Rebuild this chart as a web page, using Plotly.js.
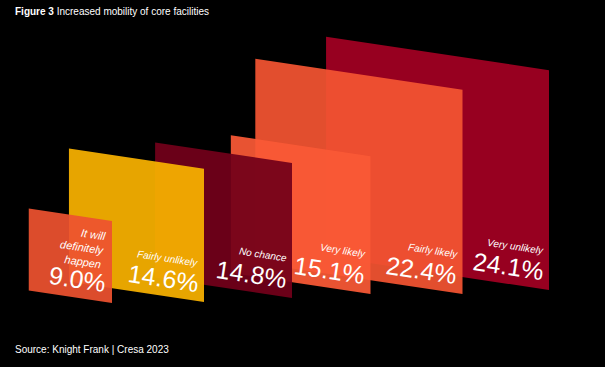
<!DOCTYPE html>
<html>
<head>
<meta charset="utf-8">
<script src="https://cdn.plot.ly/plotly-3.0.1.min.js"></script>
<style>
html,body{margin:0;padding:0;background:#000;}
#chart{width:605px;height:367px;}
</style>
</head>
<body>
<div id="chart"></div>
<script>
// ---- data ----
var categories = ["It will definitely happen", "Fairly unlikely", "No chance", "Very likely", "Fairly likely", "Very unlikely"];
var labelLines = ["It will<br>definitely<br>happen", "Fairly unlikely", "No chance", "Very likely", "Fairly likely", "Very unlikely"];
var values = [9.0, 14.6, 14.8, 15.1, 22.4, 24.1];

// ---- layout / styling (not data) ----
var rightEdge = [112, 204, 292, 370.5, 462.5, 549];
var bottomRight = [303, 302, 298, 294, 294, 290];
var colors = ["rgba(237,82,47,0.93)", "rgba(249,178,0,0.93)", "rgba(114,0,26,0.93)",
              "rgba(250,89,54,0.93)", "rgba(243,84,49,0.93)", "rgba(163,0,34,0.93)"];
var kx = 9.25, ky = 9.12, slope = 0.15;
var angle = Math.atan(slope) * 180 / Math.PI;

var traces = [];
var annotations = [];
for (var i = values.length - 1; i >= 0; i--) {
  var w = values[i] * kx, h = values[i] * ky;
  var xr = rightEdge[i], yb = bottomRight[i], xl = xr - w;
  traces.push({
    type: "scatter", mode: "lines",
    x: [xr, xr, xl, xl, xr],
    y: [yb, yb - h, yb - h - slope * w, yb - slope * w, yb],
    fill: "toself", fillcolor: colors[i],
    line: {width: 0, color: "rgba(0,0,0,0)"},
    hoverinfo: "skip", showlegend: false, name: categories[i]
  });
}
for (var j = 0; j < values.length; j++) {
  var xr2 = rightEdge[j], yb2 = bottomRight[j];
  annotations.push({
    x: xr2 - 1.5, y: yb2 - 24, xref: "x", yref: "y",
    text: values[j].toFixed(1) + "%", showarrow: false,
    xanchor: "right", yanchor: "middle", textangle: angle,
    font: {family: "Liberation Sans, Arial, sans-serif", size: 25, color: "#ffffff"}
  });
  annotations.push({
    x: xr2 - 2, y: j === 0 ? yb2 - 56 : yb2 - 44, xref: "x", yref: "y",
    text: "<i>" + labelLines[j] + "</i>", showarrow: false, align: "right",
    xanchor: "right", yanchor: "middle", textangle: angle,
    font: {family: "Liberation Sans, Arial, sans-serif", size: j === 0 ? 11 : 10, color: "#ffffff"}
  });
}
annotations.push({
  x: 13, y: 11.5, xref: "x", yref: "y", showarrow: false,
  xanchor: "left", yanchor: "middle",
  text: "<b>Figure 3</b> Increased mobility of core facilities",
  font: {family: "Liberation Sans, Arial, sans-serif", size: 10, color: "#ffffff"}
});
annotations.push({
  x: 13, y: 349.5, xref: "x", yref: "y", showarrow: false,
  xanchor: "left", yanchor: "middle",
  text: "Source: Knight Frank | Cresa 2023",
  font: {family: "Liberation Sans, Arial, sans-serif", size: 10, color: "#ffffff"}
});

var layout = {
  width: 605, height: 367,
  margin: {l: 0, r: 0, t: 0, b: 0, pad: 0},
  paper_bgcolor: "#000000", plot_bgcolor: "#000000",
  xaxis: {range: [0, 605], visible: false, fixedrange: true},
  yaxis: {range: [367, 0], visible: false, fixedrange: true},
  annotations: annotations,
  showlegend: false
};
Plotly.newPlot("chart", traces, layout, {displayModeBar: false, staticPlot: true});
</script>
</body>
</html>
